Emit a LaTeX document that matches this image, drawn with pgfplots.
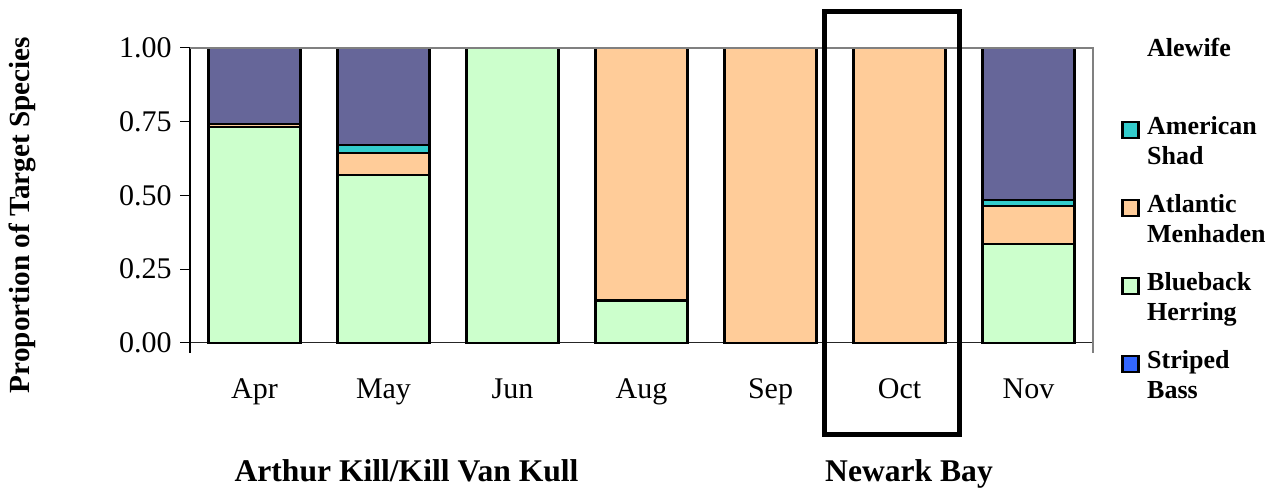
\documentclass[border=0pt]{standalone}
\usepackage{fontspec}
\setmainfont{Liberation Serif}
\usepackage{pgfplots}
\pgfplotsset{compat=1.18}
\definecolor{alewife}{HTML}{666699}
\definecolor{shad}{HTML}{33CCCC}
\definecolor{menhaden}{HTML}{FFCC99}
\definecolor{blueback}{HTML}{CCFFCC}
\definecolor{striped}{HTML}{3366FF}
\pgfplotsset{sw/.style={legend image code/.code={\draw[##1, line width=1.1pt] (0.5pt,2.75pt) rectangle (8.5pt,10.75pt);}}}
\begin{document}
\begin{tikzpicture}
\path[use as bounding box] (0,0) rectangle (641.5pt,245pt);
\begin{axis}[
  at={(95pt,73.65pt)}, anchor=south west,
  scale only axis, width=451.5pt, height=147.35pt,
  ybar stacked, bar width=0.713,
  xmin=-0.5, xmax=6.5, ymin=0, ymax=1,
  clip=false,
  axis line style={draw=none},
  xtick={0,1,2,3,4,5,6},
  xticklabels={Apr,May,Jun,Aug,Sep,Oct,Nov},
  xtick style={draw=none},
  x tick label style={anchor=base, yshift=-23.15pt, inner sep=0pt},
  ytick={0,0.25,0.5,0.75,1},
  ytick pos=left,
  ytick style={draw=black, line width=0.5pt},
  major tick length=5pt, tick align=outside,
  y tick label style={anchor=east, inner sep=0pt, xshift=-4pt},
  tick label style={font=\fontsize{15}{18}\selectfont},
  yticklabel style={/pgf/number format/.cd, fixed, fixed zerofill, precision=2, assume math mode=true},
  reverse legend,
  legend cell align=left,
  legend style={at={(axis description cs:1.031,1.044)}, anchor=north west, draw=none, fill=none,
    inner sep=0pt, row sep=9pt, column sep=3.8pt,
    font=\fontsize{13}{15}\selectfont\bfseries,
    nodes={inner sep=0pt, text height=10.5pt, text depth=19.5pt}},
]
\draw[gray, line width=0.6pt] (rel axis cs:0,1) -- (rel axis cs:1,1) -- (rel axis cs:1,0) -- ([yshift=-5pt]rel axis cs:1,0);
\addplot[fill=striped, draw=black, line width=1.1pt, sw] coordinates {(0,0) (1,0) (2,0) (3,0) (4,0) (5,0) (6,0)};
\addlegendentry{\parbox[t]{80pt}{Striped\\Bass}}
\addplot[fill=blueback, draw=black, line width=1.1pt, sw] coordinates {(0,0.733) (1,0.568) (2,1) (3,0.143) (4,0) (5,0) (6,0.335)};
\addlegendentry{\parbox[t]{80pt}{Blueback\\Herring}}
\addplot[fill=menhaden, draw=black, line width=1.1pt, sw] coordinates {(0,0.010) (1,0.077) (2,0) (3,0.857) (4,1) (5,1) (6,0.130)};
\addlegendentry{\parbox[t]{80pt}{Atlantic\\Menhaden}}
\addplot[fill=shad, draw=black, line width=1.1pt, sw] coordinates {(0,0) (1,0.027) (2,0) (3,0) (4,0) (5,0) (6,0.020)};
\addlegendentry{\parbox[t]{80pt}{American\\Shad}}
\addplot[fill=alewife, draw=black, line width=1.1pt, forget plot] coordinates {(0,0.257) (1,0.328) (2,0) (3,0) (4,0) (5,0) (6,0.515)};
\addlegendimage{legend image code/.code={}}
\addlegendentry{\parbox[t]{80pt}{Alewife}}
\draw[black, line width=0.6pt] (rel axis cs:0,1) -- (rel axis cs:0,0) -- ([yshift=-5pt]rel axis cs:0,0);
\draw[black!85, line width=0.8pt] (rel axis cs:0,0) -- (rel axis cs:1,0);
\end{axis}
\node[rotate=90, font=\fontsize{14.6}{17}\selectfont\bfseries] at (11pt,137.5pt) {Proportion of Target Species};
\node[anchor=base, font=\fontsize{15.8}{19}\selectfont\bfseries] at (203.25pt,4.2pt) {Arthur Kill/Kill Van Kull};
\node[anchor=base, font=\fontsize{15.8}{19}\selectfont\bfseries] at (454.5pt,4.2pt) {Newark Bay};
\draw[line width=2.5pt] (412.25pt,27.75pt) rectangle (479.75pt,239.25pt);
\end{tikzpicture}
\end{document}
